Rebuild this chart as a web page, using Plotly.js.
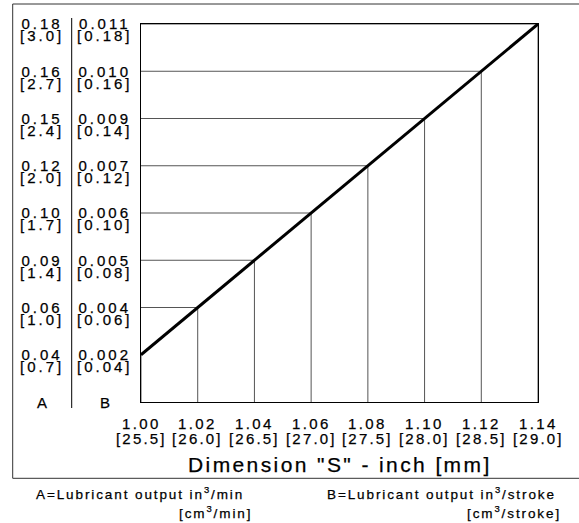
<!DOCTYPE html>
<html>
<head>
<meta charset="utf-8">
<script src="https://cdn.plot.ly/plotly-3.0.1.min.js"></script>
<style>
html,body{margin:0;padding:0;background:#fff;}
#chart{width:579px;height:523px;}
.annotation-text{stroke:#000;stroke-width:0.25px;}
</style>
</head>
<body>
<div id="chart"></div>
<script>
// ---- data ----
var dimInch = [1.00, 1.02, 1.04, 1.06, 1.08, 1.10, 1.12, 1.14];
var dimMm = ["[25.5]", "[26.0]", "[26.5]", "[27.0]", "[27.5]", "[28.0]", "[28.5]", "[29.0]"];
var outB_in = ["0.002", "0.004", "0.005", "0.006", "0.007", "0.009", "0.010", "0.011"];
var outB_cm = ["[0.04]", "[0.06]", "[0.08]", "[0.10]", "[0.12]", "[0.14]", "[0.16]", "[0.18]"];
var outA_in = ["0.04", "0.06", "0.09", "0.10", "0.12", "0.15", "0.16", "0.18"];
var outA_cm = ["[0.7]", "[1.0]", "[1.4]", "[1.7]", "[2.0]", "[2.4]", "[2.7]", "[3.0]"];
var baseCat = "base";
var colLabels = ["A", "B"];
var xTitle = 'Dimension "S" - inch [mm]';
var legendA = ["A=Lubricant output in<sup>3</sup>/min", "[cm<sup>3</sup>/min]"];
var legendB = ["B=Lubricant output in<sup>3</sup>/stroke", "[cm<sup>3</sup>/stroke]"];

// ---- layout constants ----
var FONT = "Liberation Sans, Arial, Helvetica, sans-serif";
var W = 579, H = 523, ML = 141, MR = 41, MT = 24, MB = 121;
var PW = W - ML - MR, PH = H - MT - MB;
var FS = 15;
function px2x(px){ return (px - ML) / PW; }
function py2y(py){ return (H - MB - py) / PH; }
function sp(t, s){ return '<span style="letter-spacing:' + s + 'px">' + t + '</span>'; }

var cats = [baseCat].concat(outB_in);
function catIndex(c){ return cats.indexOf(c); }

// drop lines
var dx = [], dy = [];
for (var i = 0; i < dimInch.length; i++) {
  dx.push(dimInch[i], dimInch[i], null);
  dy.push(baseCat, outB_in[i], null);
  dx.push(dimInch[0], dimInch[i], null);
  dy.push(outB_in[i], outB_in[i], null);
}

var traces = [
  {x: dx, y: dy, mode: 'lines', line: {color: '#555', width: 1}, hoverinfo: 'skip', connectgaps: false},
  {x: dimInch, y: outB_in, mode: 'lines', line: {color: '#000', width: 3}, cliponaxis: false, hoverinfo: 'skip'}
];

var ann = [];
var linePitch = []; // custom second-line pitch (px) per annotation, applied after drawing
var smallFont = {family: FONT, size: FS, color: '#000'};
var half = 0.65 * FS; // offset of first line from block centre for 2-line text in plotly

for (var i = 0; i < outB_in.length; i++) {
  var yi = catIndex(outB_in[i]);
  ann.push({xref: 'paper', yref: 'y', x: px2x(42), y: yi, text: sp(outA_in[i], 3) + '<br>' + sp(outA_cm[i], 3), showarrow: false, xanchor: 'center', yanchor: 'middle', yshift: -half, font: smallFont});
  linePitch.push(11.8);
  ann.push({xref: 'paper', yref: 'y', x: px2x(105), y: yi, text: sp(outB_in[i], 3) + '<br>' + sp(outB_cm[i], 3), showarrow: false, xanchor: 'center', yanchor: 'middle', yshift: -half, font: smallFont});
  linePitch.push(11.8);
}
ann.push({xref: 'paper', yref: 'y', x: px2x(42), y: catIndex(baseCat), text: colLabels[0], showarrow: false, xanchor: 'center', yanchor: 'middle', font: smallFont});
linePitch.push(null);
ann.push({xref: 'paper', yref: 'y', x: px2x(105), y: catIndex(baseCat), text: colLabels[1], showarrow: false, xanchor: 'center', yanchor: 'middle', font: smallFont});
linePitch.push(null);

for (var i = 0; i < dimInch.length; i++) {
  ann.push({xref: 'x', yref: 'paper', x: dimInch[i], y: py2y(423.5), text: sp(dimInch[i].toFixed(2), 2.4) + '<br>' + sp(dimMm[i], 2.2), showarrow: false, xanchor: 'center', yanchor: 'middle', yshift: -half, font: smallFont});
  linePitch.push(14.5);
}

ann.push({xref: 'paper', yref: 'paper', x: px2x(340), y: py2y(464), text: sp(xTitle, 2.4), showarrow: false, xanchor: 'center', yanchor: 'middle', font: {family: FONT, size: 21, color: '#000'}});
linePitch.push(null);

var legFont = {family: FONT, size: 13.5, color: '#000'};
ann.push({xref: 'paper', yref: 'paper', x: px2x(34), y: py2y(493), text: sp(legendA[0], 1.9), showarrow: false, xanchor: 'left', yanchor: 'middle', font: legFont});
ann.push({xref: 'paper', yref: 'paper', x: px2x(254), y: py2y(512), text: sp(legendA[1], 1.9), showarrow: false, xanchor: 'right', yanchor: 'middle', font: legFont});
ann.push({xref: 'paper', yref: 'paper', x: px2x(325), y: py2y(493), text: sp(legendB[0], 1.9), showarrow: false, xanchor: 'left', yanchor: 'middle', font: legFont});
ann.push({xref: 'paper', yref: 'paper', x: px2x(563), y: py2y(512), text: sp(legendB[1], 1.9), showarrow: false, xanchor: 'right', yanchor: 'middle', font: legFont});
linePitch.push(null, null, null, null);

var shapes = [
  // outer frame (left, top, bottom; right edge runs off the page)
  {type: 'path', xref: 'paper', yref: 'paper',
   path: 'M ' + px2x(590) + ' ' + py2y(4) + ' L ' + px2x(12.7) + ' ' + py2y(4) + ' L ' + px2x(12.7) + ' ' + py2y(478.3) + ' L ' + px2x(590) + ' ' + py2y(478.3),
   line: {color: '#333', width: 1}},
  // A | B separator
  {type: 'line', xref: 'paper', yref: 'paper', x0: px2x(71.7), x1: px2x(71.7), y0: py2y(18), y1: py2y(408), line: {color: '#000', width: 1}}
];

var layout = {
  width: W, height: H,
  margin: {l: ML, r: MR, t: MT, b: MB, pad: 0},
  paper_bgcolor: '#fff', plot_bgcolor: '#fff',
  showlegend: false, hovermode: false,
  font: {family: FONT, color: '#000'},
  xaxis: {range: [1.00, 1.14], showgrid: false, zeroline: false, showline: true, mirror: true, linecolor: '#000', linewidth: 1, showticklabels: false, ticks: '', fixedrange: true},
  yaxis: {type: 'category', categoryorder: 'array', categoryarray: cats, range: [0, 8], showgrid: false, zeroline: false, showline: true, mirror: true, linecolor: '#000', linewidth: 1, showticklabels: false, ticks: '', fixedrange: true},
  annotations: ann,
  shapes: shapes
};

Plotly.newPlot('chart', traces, layout, {displayModeBar: false, staticPlot: true}).then(function(gd){
  // tighten the line pitch of stacked two-line labels (as in the reference)
  var groups = gd.querySelectorAll('.annotation');
  groups.forEach(function(g){
    var idx = +g.getAttribute('data-index');
    var p = linePitch[idx];
    if (!p) return;
    var lines = g.querySelectorAll('.annotation-text tspan.line');
    lines.forEach(function(t, k){
      if (k > 0) t.setAttribute('dy', (p / FS) + 'em');
    });
  });
});
</script>
</body>
</html>
